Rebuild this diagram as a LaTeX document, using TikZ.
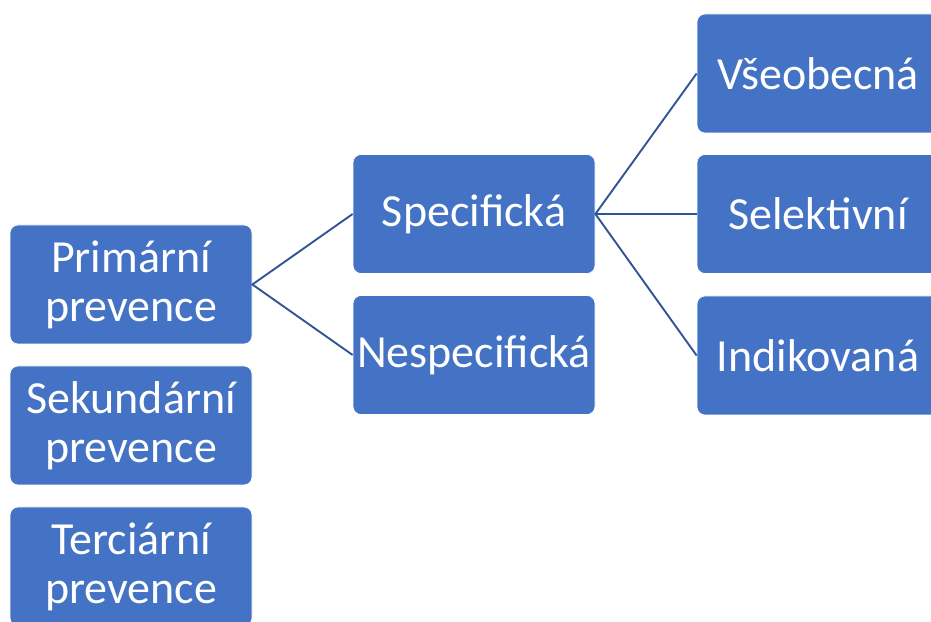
\documentclass[tikz,border=0pt]{standalone}
\usepackage{fontspec}
\setmainfont{Carlito}
\definecolor{boxblue}{HTML}{4472C4}
\definecolor{lineblue}{HTML}{2F5597}
\begin{document}
\begin{tikzpicture}[x=1pt,y=1pt,
  box/.style={rectangle, rounded corners=8pt, fill=boxblue, draw=white, line width=0.75pt,
    minimum width=242pt, minimum height=119pt, inner sep=0pt, text=white, align=center,
    font=\fontsize{46}{49}\selectfont},
  link/.style={draw=lineblue, line width=1.9pt}]
\useasboundingbox (0,0) rectangle (931,621);
\clip (0,0) rectangle (931,621);
\node[box] (prim) at (131,336.5) {Primární\\prevence};
\node[box] (sek) at (131,195.5) {Sekundární\\prevence};
\node[box] (ter) at (131,54.5) {Terciární\\prevence};
\node[box] (spec) at (474,407) {Specifická};
\node[box] (nespec) at (474,266) {Nespecifická};
\node[box] (vse) at (818,547.5) {Všeobecná};
\node[box] (sel) at (818,407) {Selektivní};
\node[box] (ind) at (818,265.5) {Indikovaná};
\draw[link] (spec.west) -- (prim.east) -- (nespec.west);
\draw[link] (vse.west) -- (spec.east) -- (ind.west);
\draw[link] (spec.east) -- (sel.west);
\end{tikzpicture}
\end{document}
